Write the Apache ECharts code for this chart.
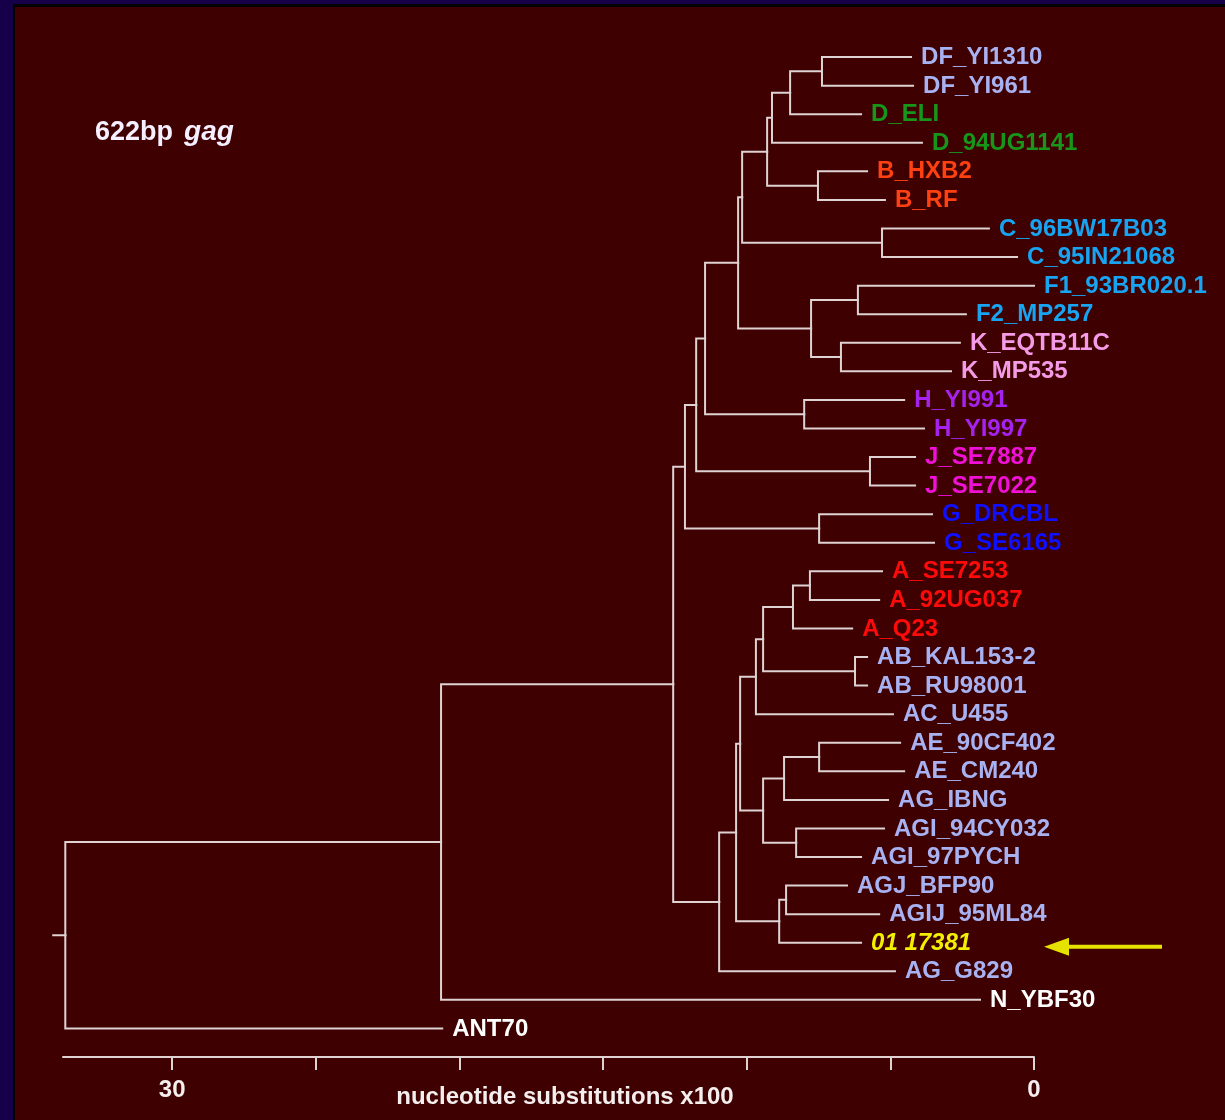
<!DOCTYPE html>
<html>
<head>
<meta charset="utf-8">
<script src="https://cdn.jsdelivr.net/npm/echarts@6/dist/echarts.min.js"></script>
<style>
  html, body { margin: 0; padding: 0; width: 1225px; height: 1120px; overflow: hidden; background: #17004a; }
  #frame { position: absolute; left: 13px; top: 4px; width: 1212px; height: 1116px; background: #000; }
  #chart { position: absolute; left: 2px; top: 3px; width: 1210px; height: 1113px; }
</style>
</head>
<body>
<div id="frame"><div id="chart"></div></div>
<script>
// Leaves, top to bottom
const leafNames = [
  'DF_YI1310', 'DF_YI961', 'D_ELI', 'D_94UG1141', 'B_HXB2', 'B_RF',
  'C_96BW17B03', 'C_95IN21068', 'F1_93BR020.1', 'F2_MP257', 'K_EQTB11C', 'K_MP535',
  'H_YI991', 'H_YI997', 'J_SE7887', 'J_SE7022', 'G_DRCBL', 'G_SE6165',
  'A_SE7253', 'A_92UG037', 'A_Q23', 'AB_KAL153-2', 'AB_RU98001', 'AC_U455',
  'AE_90CF402', 'AE_CM240', 'AG_IBNG', 'AGI_94CY032', 'AGI_97PYCH', 'AGJ_BFP90',
  'AGIJ_95ML84', '01 17381', 'AG_G829', 'N_YBF30', 'ANT70'
];
// Subtype of each leaf (sets the label colour)
const leafGroups = [
  'CRF', 'CRF', 'D', 'D', 'B', 'B',
  'C', 'C', 'F', 'F', 'K', 'K',
  'H', 'H', 'J', 'J', 'G', 'G',
  'A', 'A', 'A', 'CRF', 'CRF', 'CRF',
  'CRF', 'CRF', 'CRF', 'CRF', 'CRF', 'CRF',
  'CRF', 'query', 'CRF', 'N', 'O'
];
// Where each terminal branch ends (nucleotide substitutions x100, 0 at the right)
const tipDepths = [
  4.28, 4.21, 6.02, 3.90, 5.81, 5.19,
  1.57, 0.59, 0.00, 2.37, 2.58, 2.89,
  4.52, 3.83, 4.14, 4.14, 3.55, 3.48,
  5.29, 5.39, 6.33, 5.81, 5.81, 4.91,
  4.66, 4.52, 5.08, 5.22, 6.02, 6.51,
  5.39, 6.02, 4.84, 1.88, 20.6
];
// Internal nodes, children first, root last
const cladeNames = [
  'c1', 'c2', 'c3', 'c4', 'c5', 'c6', 'c7', 'c8', 'c9', 'c10',
  'c11', 'c12', 'c13', 'c14', 'c15', 'c16', 'c17', 'c18', 'c19', 'c20',
  'c21', 'c22', 'c23', 'c24', 'c25', 'c26', 'c27', 'c28', 'c29', 'c30',
  'c31', 'c32', 'c33', 'root'
];
const cladeChildren = [
  ['DF_YI1310', 'DF_YI961'], ['c1', 'D_ELI'], ['c2', 'D_94UG1141'], ['B_HXB2', 'B_RF'],
  ['c3', 'c4'], ['C_96BW17B03', 'C_95IN21068'], ['c5', 'c6'], ['F1_93BR020.1', 'F2_MP257'],
  ['K_EQTB11C', 'K_MP535'], ['c8', 'c9'], ['c7', 'c10'], ['H_YI991', 'H_YI997'],
  ['c11', 'c12'], ['J_SE7887', 'J_SE7022'], ['c13', 'c14'], ['G_DRCBL', 'G_SE6165'],
  ['c15', 'c16'], ['A_SE7253', 'A_92UG037'], ['c18', 'A_Q23'], ['AB_KAL153-2', 'AB_RU98001'],
  ['c19', 'c20'], ['c21', 'AC_U455'], ['AE_90CF402', 'AE_CM240'], ['c23', 'AG_IBNG'],
  ['AGI_94CY032', 'AGI_97PYCH'], ['c24', 'c25'], ['c22', 'c26'], ['AGJ_BFP90', 'AGIJ_95ML84'],
  ['c28', '01 17381'], ['c27', 'c29'], ['c30', 'AG_G829'], ['c17', 'c31'],
  ['c32', 'N_YBF30'], ['c33', 'ANT70']
];
const cladeDepths = [
  7.38, 8.49, 9.12, 7.52, 9.29, 5.29, 10.16, 6.13, 6.72, 7.76,
  10.30, 8.00, 11.45, 5.71, 11.76, 7.48, 12.15, 7.80, 8.39, 6.23,
  9.43, 9.68, 7.48, 8.70, 8.28, 9.43, 10.23, 8.63, 8.87, 10.37,
  10.96, 12.56, 20.64, 33.72
];
const rootStub = 0.42;
const axisTicks = [0, 5, 10, 15, 20, 25, 30];
const axisTickLabels = [30, 0];
const axisMax = 33.8;
const queryLeaf = '01 17381';

const groupColors = {
  CRF: '#a8b2f2', D: '#17961a', B: '#ff4010', C: '#18a4f0', F: '#18a4f0',
  K: '#f59ae6', H: '#a622ee', J: '#f010d8', G: '#1010ff', A: '#ff0a0a',
  query: '#f0f000', N: '#ffffff', O: '#ffffff'
};
const FONT = "'Liberation Sans', Arial, Helvetica, sans-serif";
const LINE = '#ded2d2';
const TEXT_SIZE = 24;

// Place every node: leaves on their row, clades midway between their children
const pos = {};
leafNames.forEach((n, i) => { pos[n] = { depth: tipDepths[i], y: i }; });
cladeNames.forEach((n, i) => {
  const [a, b] = cladeChildren[i];
  pos[n] = { depth: cladeDepths[i], y: (pos[a].y + pos[b].y) / 2 };
});

// One elbow per branch: along the parent's vertical, then across to the child
const edges = [];
cladeNames.forEach((n, i) => {
  cladeChildren[i].forEach(ch => {
    edges.push([pos[n].depth, pos[n].y, pos[ch].depth, pos[ch].y]);
  });
});
const root = pos['root'];
edges.push([root.depth + rootStub, root.y, root.depth, root.y]);

const leafData = leafNames.map((n, i) => [tipDepths[i], i, n, leafGroups[i]]);
const queryIndex = leafNames.indexOf(queryLeaf);

const chart = echarts.init(document.getElementById('chart'), null, { renderer: 'canvas' });

chart.setOption({
  animation: false,
  backgroundColor: '#3e0000',
  grid: { left: 48, right: 191, top: 21.5, bottom: 63 },
  xAxis: {
    type: 'value', inverse: true, min: 0, max: axisMax, interval: 5,
    axisLine: { show: true, onZero: false, lineStyle: { color: LINE, width: 2 } },
    axisTick: { show: true, length: 13, customValues: axisTicks, lineStyle: { color: LINE, width: 2 } },
    axisLabel: {
      customValues: axisTickLabels, margin: 21, color: '#f4eeee',
      fontFamily: FONT, fontWeight: 'bold', fontSize: TEXT_SIZE
    },
    splitLine: { show: false },
    name: 'nucleotide substitutions x100',
    nameLocation: 'middle', nameGap: 28, nameMoveOverlap: false,
    nameTextStyle: {
      color: '#f4eeee', fontFamily: FONT, fontWeight: 'bold', fontSize: TEXT_SIZE,
      padding: [0, 0, 0, 33]
    }
  },
  yAxis: { type: 'value', inverse: true, min: -1, max: 35, show: false },
  graphic: [{
    type: 'text', x: 80, y: 125.5,
    style: {
      text: '{n|622bp}{s|}{i|gag}',
      verticalAlign: 'middle',
      rich: {
        n: { fill: '#f4f0ff', fontFamily: FONT, fontWeight: 'bold', fontSize: 27 },
        s: { width: 11 },
        i: { fill: '#f4f0ff', fontFamily: FONT, fontWeight: 'bold', fontStyle: 'italic', fontSize: 28 }
      }
    }
  }],
  series: [
    {
      type: 'custom', name: 'branches', clip: false, silent: true,
      data: edges,
      renderItem: function (params, api) {
        const p = api.coord([api.value(0), api.value(1)]);
        const m = api.coord([api.value(0), api.value(3)]);
        const c = api.coord([api.value(2), api.value(3)]);
        return {
          type: 'polyline',
          shape: { points: [p, m, c] },
          style: { stroke: LINE, lineWidth: 2, fill: null, lineJoin: 'miter', lineCap: 'square' }
        };
      }
    },
    {
      type: 'custom', name: 'leaves', clip: false, silent: true,
      data: leafData,
      renderItem: function (params, api) {
        const item = leafData[params.dataIndex];
        const c = api.coord([item[0], item[1]]);
        const isQuery = item[3] === 'query';
        return {
          type: 'text', x: c[0] + 10, y: c[1] + 0.5,
          style: {
            text: item[2], fill: groupColors[item[3]],
            fontFamily: FONT, fontWeight: 'bold', fontSize: TEXT_SIZE,
            fontStyle: isQuery ? 'italic' : 'normal',
            align: 'left', verticalAlign: 'middle'
          }
        };
      }
    },
    {
      type: 'custom', name: 'pointer', clip: false, silent: true,
      data: [[0, queryIndex]],
      renderItem: function (params, api) {
        const c = api.coord([api.value(0), api.value(1)]);
        const x0 = c[0], y = c[1] + 4;
        return {
          type: 'group',
          children: [
            { type: 'line', shape: { x1: x0 + 30, y1: y, x2: x0 + 128, y2: y },
              style: { stroke: '#e6e200', lineWidth: 4 } },
            { type: 'polygon', shape: { points: [[x0 + 10, y], [x0 + 35, y - 9], [x0 + 35, y + 9]] },
              style: { fill: '#e6e200' } }
          ]
        };
      }
    }
  ]
});
</script>
</body>
</html>
